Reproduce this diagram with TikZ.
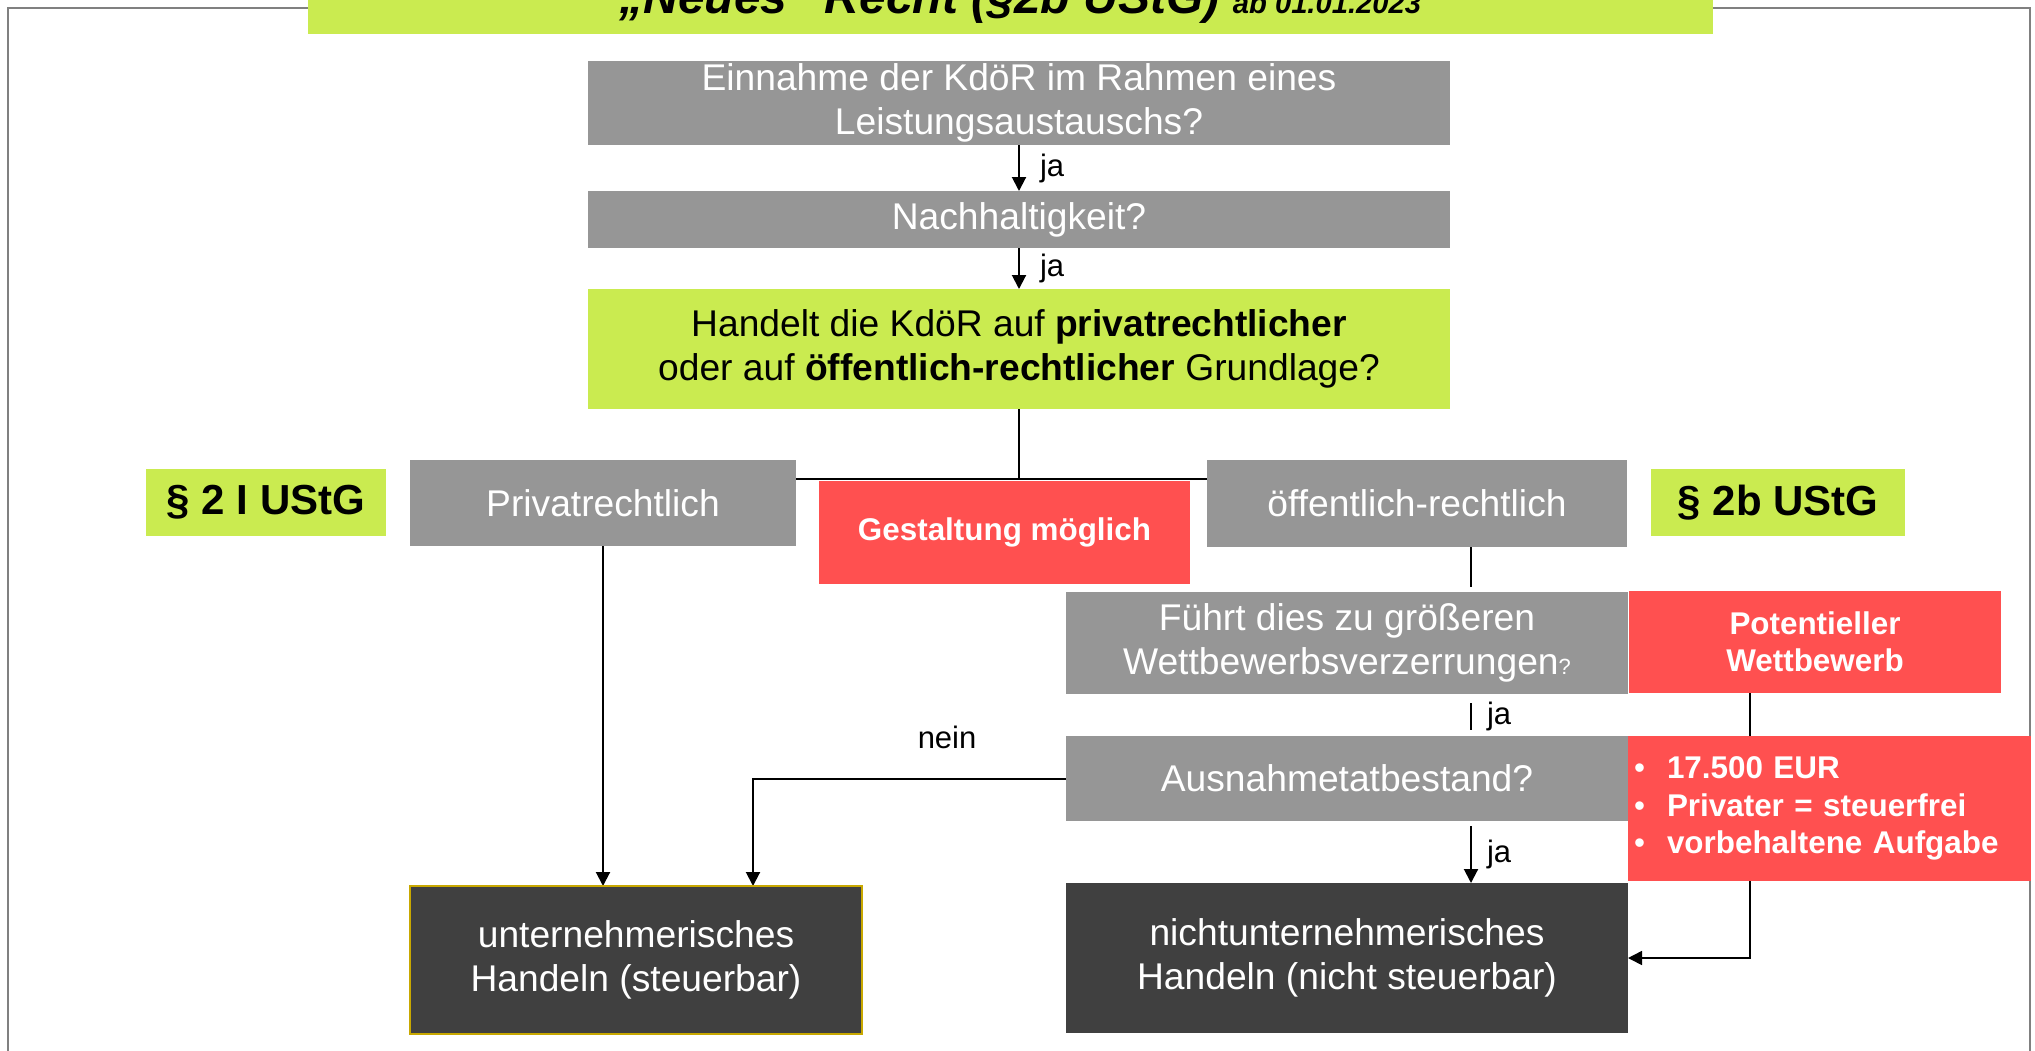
\documentclass[tikz,border=0pt]{standalone}
\usepackage{fontspec}
\setmainfont{Liberation Sans}
\usetikzlibrary{arrows.meta,backgrounds,calc}
\definecolor{boxgray}{RGB}{150,150,150}
\definecolor{limegreen}{RGB}{202,235,80}
\definecolor{alertred}{RGB}{255,80,80}
\definecolor{darkfill}{RGB}{64,64,64}
\definecolor{framegray}{RGB}{128,128,128}
\definecolor{goldline}{RGB}{200,168,0}
\newcommand\bulitem{\makebox[16.5pt][l]{\mdseries\textbullet}}
\begin{document}
\begin{tikzpicture}[x=0.5pt,y=-0.5pt,
  base/.style={rectangle, inner sep=0pt, outer sep=0pt, align=center},
  mainfont/.style={font=\fontsize{18.6}{22.2}\selectfont},
  graybox/.style={base, fill=boxgray, text=white, mainfont},
  greenbox/.style={base, fill=limegreen, text=black, mainfont},
  lawbox/.style={base, fill=limegreen, text=black, font=\fontsize{21}{25}\selectfont\bfseries},
  redbox/.style={base, fill=alertred, text=white, font=\fontsize{15.7}{18.6}\selectfont\bfseries},
  resultbox/.style={base, fill=darkfill, text=white, mainfont},
  lbl/.style={inner sep=0pt, text=black, font=\fontsize{15.5}{18}\selectfont},
  conn/.style={line width=1pt, black},
  arr/.style={conn, -{Triangle[length=7pt,width=7pt]}}
]
\useasboundingbox (0,0) rectangle (2035,1050);
\clip (0,0) rectangle (2035,1050);

% title
\node[base, fill=limegreen, minimum width=702.5pt, minimum height=37pt] (title) at (1010.5,-3) {};
\node[inner sep=0pt, anchor=base west, font=\fontsize{24}{28}\selectfont\bfseries\itshape] (titletext) at (619,13)
  {„Neues“ Recht (§2b UStG) {\fontsize{14.6}{17}\selectfont ab 01.01.2023}};

% boxes
\node[graybox, minimum width=431pt, minimum height=42pt] (b1) at (1019,103)
  {Einnahme der KdöR im Rahmen eines\\Leistungsaustauschs?};
\node[graybox, minimum width=431pt, minimum height=28.5pt] (b2) at (1019,219.5) {Nachhaltigkeit?};
\node[greenbox, minimum width=431pt, minimum height=60pt] (b3) at (1019,349)
  {Handelt die KdöR auf \textbf{privatrechtlicher}\\oder auf \textbf{öffentlich-rechtlicher} Grundlage?};
\node[graybox, minimum width=193pt, minimum height=43pt] (priv) at (603,503) {Privatrechtlich};
\node[lawbox, minimum width=120pt, minimum height=33.5pt] (law1) at (266,502.5) {§ 2 I UStG};
\node[redbox, minimum width=185.5pt, minimum height=51.5pt] (gest) at (1004.5,532.5) {Gestaltung möglich};
\node[graybox, minimum width=210pt, minimum height=43.5pt] (oeff) at (1417,503.5) {öffentlich-rechtlich};
\node[lawbox, minimum width=127pt, minimum height=33.5pt] (law2) at (1778,502.5) {§ 2b UStG};
\node[graybox, minimum width=281pt, minimum height=51pt] (fuehrt) at (1347,643)
  {Führt dies zu größeren\\Wettbewerbsverzerrungen{\fontsize{11}{11}\selectfont ?}};
\node[redbox, minimum width=186pt, minimum height=51pt] (pot) at (1815,642) {Potentieller\\Wettbewerb};
\node[graybox, minimum width=281pt, minimum height=42.5pt] (aus) at (1347,778.5) {Ausnahmetatbestand?};
\node[redbox, align=left, inner xsep=3pt, text width=195.5pt, minimum height=72.5pt] (r2) at (1829.5,808.5)
  {\bulitem 17.500 EUR\\\bulitem Privater = steuerfrei\\\bulitem vorbehaltene Aufgabe};
\node[resultbox, draw=goldline, line width=0.75pt, minimum width=226pt, minimum height=74pt] (unt) at (636,960)
  {unternehmerisches\\Handeln (steuerbar)};
\node[resultbox, minimum width=281pt, minimum height=75pt] (nicht) at (1347,958)
  {nichtunternehmerisches\\Handeln (nicht steuerbar)};

% helper coordinates
\coordinate (junc) at (1019,479);
\coordinate (colR) at (1471,0);
\coordinate (colN) at (753,0);
\coordinate (colP) at (1750,0);

\begin{scope}[on background layer]
  % frame
  \draw[framegray, line width=1.25pt] (8,1070) -- (8,8) -- (2030,8) -- (2030,1070);
  % connectors
  \draw[arr] (b1) -- node[lbl, anchor=west, xshift=10pt] {ja} (b2);
  \draw[arr] (b2) -- node[lbl, anchor=west, xshift=10pt] {ja} (b3);
  \draw[conn] (b3.south) -- (junc);
  \draw[conn] (priv.east |- junc) -- (oeff.west |- junc);
  \draw[arr] (priv.south) -- (priv.south |- unt.north);
  \draw[conn] (oeff.south -| colR) -- ([yshift=2.5pt]fuehrt.north -| colR);
  \draw[conn] ([yshift=-4.5pt]fuehrt.south -| colR) -- node[lbl, anchor=west, xshift=7.5pt] {ja} ([yshift=3pt]aus.north -| colR);
  \draw[arr] ([yshift=-2.5pt]aus.south -| colR) -- node[lbl, anchor=west, xshift=7.5pt] {ja} (nicht.north -| colR);
  \draw[arr] (aus.west) -| node[lbl, pos=0.19, yshift=20.5pt] {nein} (unt.north -| colN);
  \draw[line width=0.8pt, -{Triangle[length=7pt,width=7pt]}] (pot.south -| colP) |- (nicht.east);
\end{scope}
\end{tikzpicture}
\end{document}
